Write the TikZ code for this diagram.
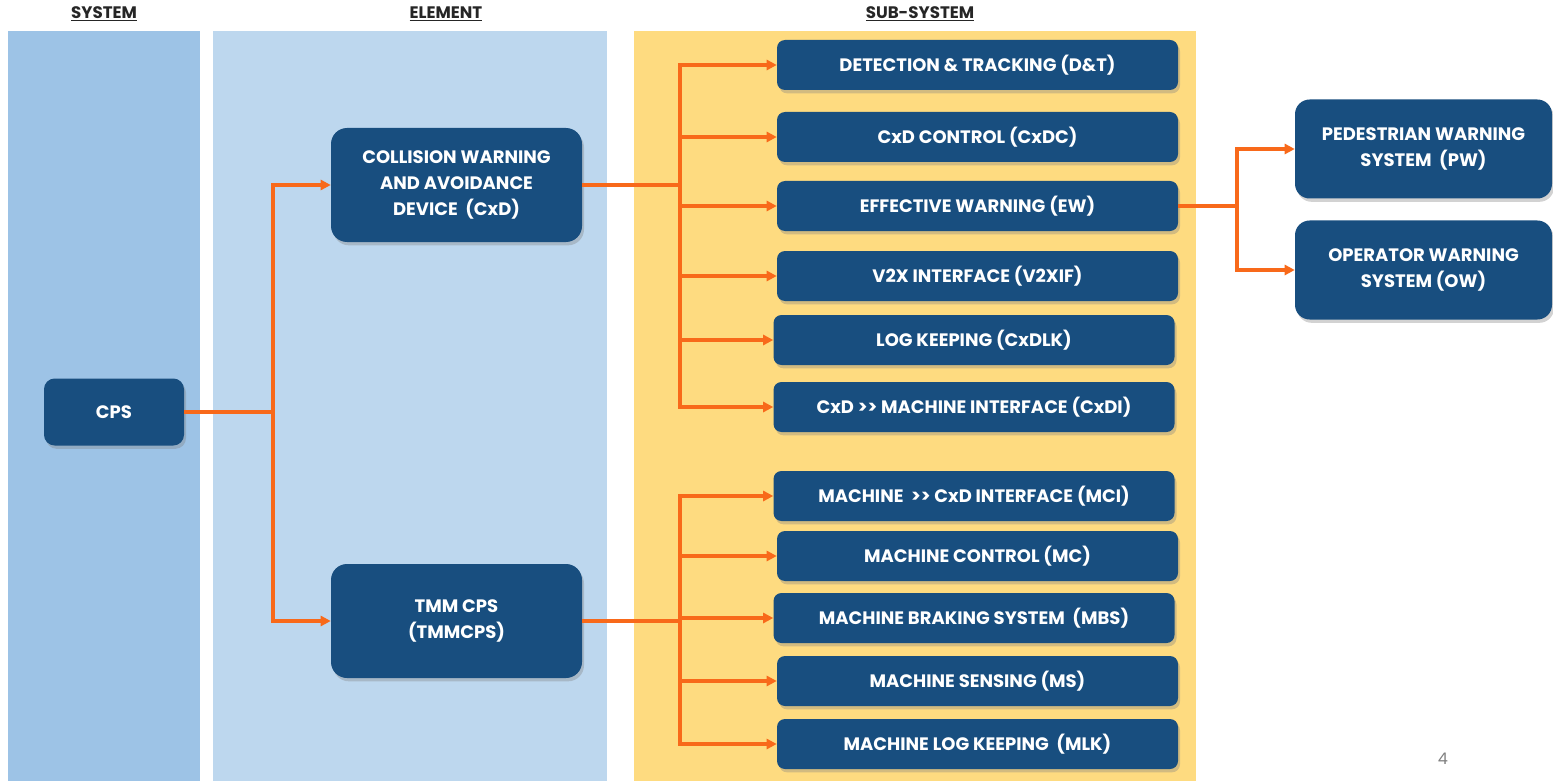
\documentclass[tikz,border=0pt]{standalone}
\usepackage{fontspec}
\setmainfont{Poppins}
\usetikzlibrary{arrows.meta,shadows}
\definecolor{boxblue}{HTML}{184E7F}
\definecolor{colsys}{HTML}{9DC3E6}
\definecolor{colelem}{HTML}{BDD7EE}
\definecolor{colsub}{HTML}{FEDB80}
\definecolor{arrorange}{HTML}{F8691A}
\definecolor{headgray}{HTML}{262626}
\tikzset{
  box/.style={fill=boxblue, text=white, font=\bfseries\fontsize{13.5}{19.5}\selectfont,
    align=center, inner sep=0pt, rounded corners=6pt,
    drop shadow={opacity=0.35, shadow xshift=1.5pt, shadow yshift=-2.5pt}},
  subbox/.style={box, minimum width=300.75pt, minimum height=37.5pt},
  elbox/.style={box, minimum width=188.25pt, minimum height=85.5pt, rounded corners=12pt},
  outbox/.style={box, minimum width=192.75pt, minimum height=74.25pt, rounded corners=11pt},
  sysbox/.style={box, minimum width=105pt, minimum height=50.25pt, rounded corners=8pt},
  conn/.style={draw=arrorange, line width=2.3pt},
  arr/.style={conn, -{Triangle[length=7.5pt,width=7.5pt]}},
  head/.style={font=\bfseries\fontsize{12.5}{15}\selectfont, text=headgray},
}
\begin{document}
\begin{tikzpicture}[x=0.75pt,y=-0.75pt]
\useasboundingbox (0,0) rectangle (1553,781);
\fill[white] (0,0) rectangle (1553,781);
% columns
\fill[colsys] (8,31) rectangle (200,781);
\fill[colelem] (213,31) rectangle (607,781);
\fill[colsub] (634,31) rectangle (1196,781);
% headers
\node[head] (hsys) at (104,14) {\underline{SYSTEM}};
\node[head] (helem) at (446,14) {\underline{ELEMENT}};
\node[head] (hsub) at (920,14) {\underline{SUB-SYSTEM}};
% system
\node[sysbox] (cps) at (114,412) {CPS};
% elements
\node[elbox] (cxd) at (456.5,185) {COLLISION WARNING\\AND AVOIDANCE\\DEVICE\ \ (CxD)};
\node[elbox] (tmm) at (456.5,621) {TMM CPS\\(TMMCPS)};
% sub-systems
\node[subbox] (dt) at (977.5,65) {DETECTION \& TRACKING (D\&T)};
\node[subbox] (cxdc) at (977.5,137) {CxD CONTROL (CxDC)};
\node[subbox] (ew) at (977.5,206) {EFFECTIVE WARNING (EW)};
\node[subbox] (v2x) at (977.5,276) {V2X INTERFACE (V2XIF)};
\node[subbox] (lk) at (974,340) {LOG KEEPING (CxDLK)};
\node[subbox] (cxdi) at (974,407) {CxD >{}> MACHINE INTERFACE (CxDI)};
\node[subbox] (mci) at (974,496) {MACHINE\ \ >{}> CxD INTERFACE (MCI)};
\node[subbox] (mc) at (977.5,556) {MACHINE CONTROL (MC)};
\node[subbox] (mbs) at (974,618) {MACHINE BRAKING SYSTEM\ \ (MBS)};
\node[subbox] (ms) at (977.5,681) {MACHINE SENSING (MS)};
\node[subbox] (mlk) at (977.5,744) {MACHINE LOG KEEPING\ \ (MLK)};
% outputs
\node[outbox] (pw) at (1423.5,149) {PEDESTRIAN WARNING\\SYSTEM\ \ (PW)};
\node[outbox] (ow) at (1423.5,270) {OPERATOR WARNING\\SYSTEM (OW)};
% page number
\node[text=gray, font=\fontsize{12}{14}\selectfont] (pg) at (1443,759) {4};
% connectors
\coordinate (j1) at (273,412);
\draw[conn] (cps.east) -- (j1);
\draw[arr] (j1) |- (cxd.west);
\draw[arr] (j1) |- (tmm.west);
\coordinate (j2) at (680,185);
\draw[conn] (cxd.east) -- (j2);
\foreach \n in {dt,cxdc,ew,v2x,lk,cxdi} \draw[arr] (j2) |- (\n.west);
\coordinate (j3) at (680,621);
\draw[conn] (tmm.east) -- (j3);
\foreach \n in {mci,mc,mbs,ms,mlk} \draw[arr] (j3) |- (\n.west);
\coordinate (j4) at (1237,206);
\draw[conn] (ew.east) -- (j4);
\draw[arr] (j4) |- (pw.west);
\draw[arr] (j4) |- (ow.west);
\end{tikzpicture}
\end{document}
